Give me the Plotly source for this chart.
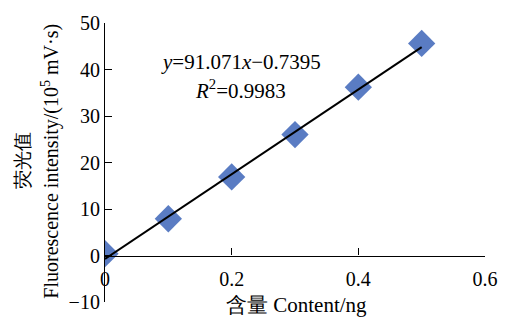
import plotly.graph_objects as go

# Data
content_ng = [0.0, 0.1, 0.2, 0.3, 0.4, 0.5]
fluorescence = [0.4, 7.9, 16.9, 26.0, 36.2, 45.6]
slope = 91.071
intercept = -0.7395
r2 = 0.9983
x_ticks = [0, 0.2, 0.4, 0.6]
x_labels = ["0", "0.2", "0.4", "0.6"]
y_ticks = [-10, 0, 10, 20, 30, 40, 50]

FONT = "Liberation Serif"
FS = 20

fit_x = [min(content_ng), max(content_ng)]
fit_y = [slope * v + intercept for v in fit_x]

L, R, T, B = 105, 21, 17, 17
W, H = 510, 325
pw = W - L - R
ph = H - T - B


def px_x(p):
    return (p - L) / pw


def px_y(p):
    return (H - B - p) / ph


fig = go.Figure()
fig.add_trace(go.Scatter(
    x=content_ng, y=fluorescence, mode="markers",
    marker=dict(symbol="diamond", size=21, color="#5a7cc3", line=dict(width=0)),
    showlegend=False, hoverinfo="skip"))
fig.add_trace(go.Scatter(
    x=fit_x, y=fit_y, mode="lines",
    line=dict(color="black", width=2),
    showlegend=False, hoverinfo="skip"))

fig.update_layout(
    width=W, height=H,
    margin=dict(l=L, r=R, t=T, b=B),
    plot_bgcolor="white", paper_bgcolor="white",
    font=dict(family=FONT, size=FS, color="black"),
    xaxis=dict(range=[0, 0.6], tickvals=x_ticks, ticktext=x_labels,
               showline=True, linecolor="black", linewidth=1.2,
               ticks="inside", ticklen=7, tickcolor="black",
               ticklabelstandoff=5,
               showgrid=False, zeroline=False,
               anchor="free", position=10 / 60),
    yaxis=dict(range=[-10, 50], tickvals=y_ticks,
               showline=True, linecolor="black", linewidth=1.2,
               ticks="inside", ticklen=7, tickcolor="black",
               showgrid=False, zeroline=False),
)

ann = [
    (242, 58, 0, "<i>y</i>=91.071<i>x</i>−0.7395", 21),
    (242, 86, 0, f"<i>R</i><sup>2</sup>={r2}", 21),
    (299, 311, 0, "含量 Content/ng", 21),
    (21, 160, -90, "荧光值", 19),
    (49, 161, -90, "Fluorescence intensity/(10<sup>5</sup> mV·s)", FS),
]
for x, y, ang, txt, fs in ann:
    fig.add_annotation(x=px_x(x), y=px_y(y), xref="paper", yref="paper",
                       xanchor="center", yanchor="middle",
                       showarrow=False, textangle=ang, text=txt,
                       font=dict(family=FONT, size=fs, color="black"))

fig.write_html("out.html", config={"displayModeBar": False},
               post_script="document.body.style.margin='0px';document.body.style.padding='0px';")
